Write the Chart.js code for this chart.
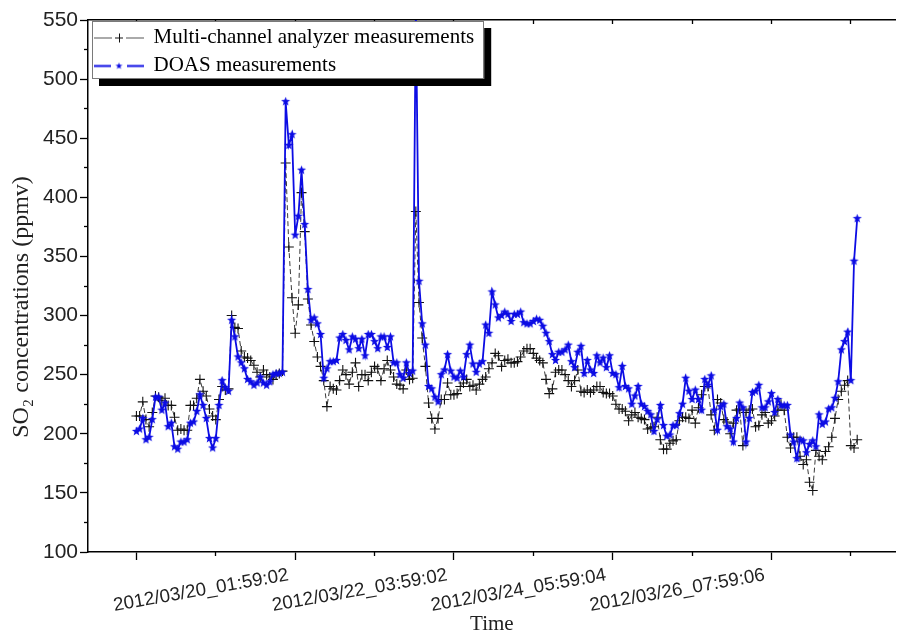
<!DOCTYPE html>
<html>
<head>
<meta charset="utf-8">
<script src="https://cdn.jsdelivr.net/npm/chart.js@4.4.1/dist/chart.umd.min.js"></script>
<style>
  html, body { margin: 0; padding: 0; background: #fff; overflow: hidden; }
  #wrap { width: 902px; height: 633px; }
</style>
</head>
<body>
<div id="wrap"><canvas id="c" width="902" height="633"></canvas></div>
<script>
// ---- data: hourly SO2 readings (ppmv) from both instruments ----
const seriesNames = ['Multi-channel analyzer measurements', 'DOAS measurements'];

const analyzerSO2 = [
  215,215,227,212,206,218,232,231,228,230, 224,224,214,203,204,203,203,224,224,230,
  246,236,232,221,215,212,229,240,237,238, 300,290,289,270,265,264,262,258,252,248,
  254,250,248,246,250,251,253,429,358,315, 285,309,404,371,314,292,278,265,
  257,245,223,240,238,237,245,254,250,242, 252,260,240,250,250,245,252,257,255,245,
  255,262,254,248,242,241,238,254,246,247, 388,
  311,281,257,226,213,204,213,229,229,243, 233,233,234,240,243,246,240,241,237,242,
  246,248,255,260,268,
  266,257,262,263,260,260,261,265,270,272, 272,268,264,262,260,246,234,238,252,254,
  254,250,245,240,245,254,236,235,237,235, 237,240,240,235,234,234,232,225,221,221,
  219,211,216,218,214,213,212,204,205,206, 214,195,187,187,192,194,195,211,214,
  214,213,220,209,222,233,240,240,216,203, 229,226,212,210,200,209,220,221,190,218,
  220,221,206,207,216,218,209,211,215,220, 225,220,197,188,197,197,181,174,178,159,
  152,186,181,178,185,189,197,213,229,236, 241,245,190,188,195
];

const doasSO2 = [
  202,204,213,195,197,212,231,231,220,226, 206,209,189,187,193,193,195,209,210,219,
  233,224,213,196,188,196,224,245,239,236, 296,282,265,260,255,246,244,241,243,248,
  243,241,244,250,251,251,
  252,481,444,453,368,384,423,377,
  322,296,298,293,284,247,255,261,261,262, 281,284,279,271,282,280,272,280,266,284,
  284,278,272,282,282,273,282,260,260,250, 247,260,251,253,560,329,293,275,240,238,
  231,227,250,254,267,253,248,247,253,248, 267,275,259,252,259,261,292,285,320,309,
  298,300,303,301,295,301,301,303,294,293, 293,295,297,296,291,285,278,267,262,269,
  269,271,275,261,256,269,274,251,262,254, 251,266,260,264,256,266,251,250,239,257,
  240,238,225,232,240,225,223,219,216,202, 212,224,207,198,199,207,207,
  217,225,247,236,229,237,229,220,246,241, 249,220,203,223,225,206,204,193,213,226,
  222,193,213,235,236,241,222,222,227,234, 218,229,224,224,224,199,193,179,195,194,
  184,191,194,189,216,208,210,221,222,230, 244,271,278,286,245,346,382
];

// time stamps printed under the axis and the sample index each belongs to
const timeLabels = ['2012/03/20_01:59:02', '2012/03/22_03:59:02', '2012/03/24_05:59:04', '2012/03/26_07:59:06'];
const timeLabelIndex = [0, 50, 100, 150];
const xMajorTicks = [0, 50, 100, 150, 200];
const xMinorTicks = [25, 75, 125, 175, 225];
const xAllTicks = [0, 25, 50, 75, 100, 125, 150, 175, 200, 225];

const yMajorTicks = [100, 150, 200, 250, 300, 350, 400, 450, 500, 550];
const yMinorTicks = [125, 175, 225, 275, 325, 375, 425, 475, 525];

// ---- look ----
const SERIF = "'Liberation Serif', 'Times New Roman', serif";
const SANS = "'Liberation Sans', Arial, sans-serif";
const BLUE = '#0c0ce4';
const AXIS = '#000';

// frame of the plot inside the 902x633 canvas
const FRAME = { left: 88, top: 20, bottom: 552, right: 902, canvasH: 633 };
const PX_PER_SAMPLE = 3.2;
const FIRST_SAMPLE_PX = 136.8;
const xMin = -(FIRST_SAMPLE_PX - FRAME.left) / PX_PER_SAMPLE;
const xMax = xMin + (FRAME.right - FRAME.left) / PX_PER_SAMPLE;

// filled five-point star used as the DOAS marker
function makeStar(r, color) {
  const size = Math.ceil(r * 2) + 1;
  const c = document.createElement('canvas');
  c.width = c.height = size;
  const g = c.getContext('2d');
  g.fillStyle = color;
  g.beginPath();
  for (let k = 0; k < 10; k++) {
    const a = -Math.PI / 2 + k * Math.PI / 5;
    const rr = k % 2 ? r * 0.42 : r;
    g.lineTo(size / 2 + rr * Math.cos(a), size / 2 + rr * Math.sin(a));
  }
  g.closePath();
  g.fill();
  return c;
}

// legend glyphs: line - marker - line
function makeLegendIcon(kind) {
  const w = 50, h = 14, cy = 7;
  const c = document.createElement('canvas');
  c.width = w; c.height = h;
  const g = c.getContext('2d');
  if (kind === 'cross') {
    g.strokeStyle = '#555'; g.lineWidth = 1;
    g.beginPath(); g.moveTo(0, cy + 0.5); g.lineTo(18, cy + 0.5); g.moveTo(32, cy + 0.5); g.lineTo(50, cy + 0.5); g.stroke();
    g.strokeStyle = '#111'; g.lineWidth = 1;
    g.beginPath(); g.moveTo(21, cy + 0.5); g.lineTo(29, cy + 0.5); g.moveTo(25.5, cy - 4); g.lineTo(25.5, cy + 5); g.stroke();
  } else {
    g.strokeStyle = BLUE; g.lineWidth = 1.8;
    g.beginPath(); g.moveTo(0, cy + 0.5); g.lineTo(17, cy + 0.5); g.moveTo(33, cy + 0.5); g.lineTo(50, cy + 0.5); g.stroke();
    const s = makeStar(3.6, BLUE);
    g.drawImage(s, 25 - s.width / 2, cy + 0.5 - s.height / 2);
  }
  return c;
}

const starMarker = makeStar(4.8, BLUE);
const legendIcons = [makeLegendIcon('cross'), makeLegendIcon('star')];

const LEGEND_FONT = 21;
const LEGEND_PAD = 7;
const LEGEND_BOX_W = 48;

// white legend box with a hard black drop shadow, drawn above the data
function drawLegendFrame(chart, lg) {
  const ctx = chart.ctx;
  ctx.save();
  ctx.font = LEGEND_FONT + 'px ' + SERIF;
  const tw = Math.max(...seriesNames.map(t => ctx.measureText(t).width));
  const x0 = lg.left + 4;
  const y0 = lg.top + 1;
  const x1 = lg.left + LEGEND_PAD + LEGEND_BOX_W + LEGEND_FONT / 2 + tw + 10;
  const y1 = lg.top + LEGEND_PAD * 2 + LEGEND_FONT * 2 + 3;
  ctx.fillStyle = '#000';
  ctx.fillRect(x0 + 7, y0 + 7, x1 - x0, y1 - y0);
  ctx.fillStyle = '#fff';
  ctx.fillRect(x0, y0, x1 - x0, y1 - y0);
  ctx.strokeStyle = '#7a7a7a';
  ctx.lineWidth = 1;
  ctx.strokeRect(Math.round(x0) + 0.5, Math.round(y0) + 0.5, Math.round(x1 - x0) - 1, Math.round(y1 - y0) - 1);
  ctx.restore();
}

const legendOnTop = {
  id: 'legendOnTop',
  beforeLayout(chart) {
    const lg = chart.legend;
    if (!lg || lg._onTop) return;
    lg._onTop = true;
    lg._layers = () => [{
      z: 10,
      draw() {
        const ca = chart.chartArea;
        lg.left = ca.left; lg.top = ca.top; lg.right = ca.right; lg.bottom = ca.bottom;
        drawLegendFrame(chart, lg);
        lg.draw();
      }
    }];
  }
};

const setTicks = list => scale => { scale.ticks = list.map(v => ({ value: v })); };

new Chart(document.getElementById('c'), {
  type: 'line',
  data: {
    datasets: [
      {
        label: seriesNames[0],
        data: analyzerSO2.map((y, i) => ({ x: i, y })),
        borderColor: '#3a3a3a',
        borderWidth: 1,
        borderDash: [5, 3],
        pointStyle: 'cross',
        pointRadius: 5,
        pointBorderColor: '#111',
        pointBorderWidth: 1.1,
        pointBackgroundColor: 'rgba(0,0,0,0)',
        order: 1
      },
      {
        label: seriesNames[1],
        data: doasSO2.map((y, i) => ({ x: i, y })),
        borderColor: BLUE,
        borderWidth: 1.8,
        pointStyle: starMarker,
        pointRadius: 4.5,
        order: 0
      }
    ]
  },
  options: {
    responsive: false,
    animation: false,
    devicePixelRatio: 1,
    events: [],
    layout: { padding: 0 },
    scales: {
      x: {
        type: 'linear', position: 'bottom', weight: 1,
        min: xMin, max: xMax, bounds: 'data',
        afterBuildTicks: setTicks(xMajorTicks),
        afterFit: s => { s.height = FRAME.canvasH - FRAME.bottom; s.paddingLeft = 0; s.paddingRight = 0; },
        ticks: {
          autoSkip: false, minRotation: 10, maxRotation: 10,
          labelOffset: 152, padding: 4,
          font: { family: SANS, size: 18.8 }, color: '#222',
          callback: v => { const k = timeLabelIndex.indexOf(v); return k >= 0 ? timeLabels[k] : ''; }
        },
        grid: { drawOnChartArea: false, tickLength: 8, tickColor: AXIS, tickWidth: 1.3 },
        border: { color: AXIS, width: 1.5 },
        title: {
          display: true, text: 'Time', color: '#222',
          font: { family: SERIF, size: 21, lineHeight: 0.8 },
          padding: { top: 0, bottom: 0 }
        }
      },
      xMinor: {
        type: 'linear', position: 'bottom', weight: 0,
        min: xMin, max: xMax, bounds: 'data',
        afterBuildTicks: setTicks(xMinorTicks),
        afterFit: s => { s.height = 0; s.paddingLeft = 0; s.paddingRight = 0; },
        ticks: { display: false },
        grid: { drawOnChartArea: false, tickLength: 4, tickColor: AXIS, tickWidth: 1.3 },
        border: { display: false }
      },
      xTop: {
        type: 'linear', position: 'top',
        min: xMin, max: xMax, bounds: 'data',
        afterBuildTicks: setTicks(xAllTicks),
        afterFit: s => { s.height = FRAME.top; s.paddingLeft = 0; s.paddingRight = 0; },
        ticks: { display: false },
        grid: { drawOnChartArea: false, tickLength: -4, tickColor: AXIS, tickWidth: 1.3 },
        border: { color: AXIS, width: 1.5 }
      },
      y: {
        type: 'linear', position: 'left', weight: 1,
        min: 100, max: 550, bounds: 'data',
        afterBuildTicks: setTicks(yMajorTicks),
        afterFit: s => { s.width = FRAME.left; },
        ticks: { font: { family: SANS, size: 21 }, color: '#222', padding: 2 },
        grid: { drawOnChartArea: false, tickLength: 8, tickColor: AXIS, tickWidth: 1.3 },
        border: { color: AXIS, width: 1.5 },
        title: {
          display: true,
          text: 'SO\u2082 concentrations (ppmv)       ',
          color: '#222',
          font: { family: SERIF, size: 24 },
          padding: { top: 7, bottom: 0 }
        }
      },
      yMinor: {
        type: 'linear', position: 'left', weight: 0,
        min: 100, max: 550, bounds: 'data',
        afterBuildTicks: setTicks(yMinorTicks),
        afterFit: s => { s.width = 0; },
        ticks: { display: false },
        grid: { drawOnChartArea: false, tickLength: 4, tickColor: AXIS, tickWidth: 1.3 },
        border: { display: false }
      }
    },
    plugins: {
      tooltip: { enabled: false },
      legend: {
        position: 'chartArea',
        align: 'start',
        labels: {
          usePointStyle: true,
          pointStyleWidth: LEGEND_BOX_W,
          padding: LEGEND_PAD,
          color: '#1a1a1a',
          font: { family: SERIF, size: LEGEND_FONT },
          generateLabels: () => seriesNames.map((t, i) => ({
            text: t,
            pointStyle: legendIcons[i],
            fillStyle: 'rgba(0,0,0,0)',
            strokeStyle: 'rgba(0,0,0,0)',
            lineWidth: 0,
            hidden: false,
            datasetIndex: i
          }))
        }
      }
    }
  },
  plugins: [legendOnTop]
});
</script>
</body>
</html>
